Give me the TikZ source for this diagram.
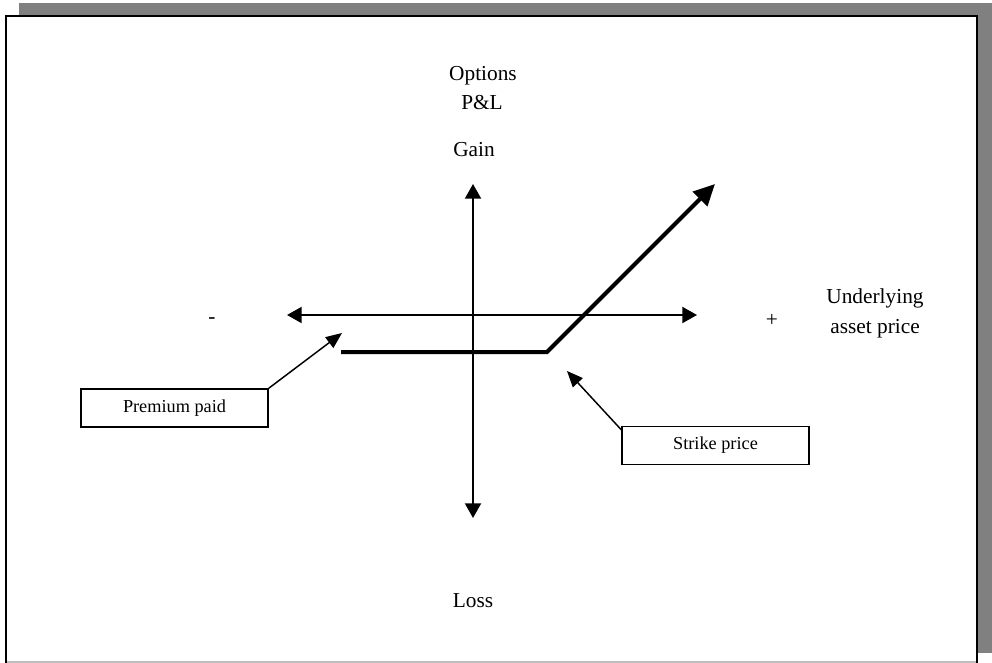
\documentclass[tikz,border=0pt]{standalone}
\usepackage{fontspec}
\setmainfont{Liberation Serif}
\usetikzlibrary{arrows.meta}
\definecolor{shadowgray}{RGB}{128,128,128}
\definecolor{edgegray}{RGB}{190,190,190}
\tikzset{
  axisline/.style={line width=1.5pt, {Triangle[length=11pt,width=12pt]}-{Triangle[length=11pt,width=12pt]}},
  payoff/.style={line width=3pt, -{Triangle[length=16pt,width=15pt]}, line join=miter},
  callout/.style={line width=1.1pt, -{Triangle[length=12pt,width=10pt]}},
  labelbox/.style={draw, line width=1.1pt, minimum width=140.25pt, minimum height=28.5pt, inner sep=0pt, font=\fontsize{13.7}{16}\selectfont},
  bigtext/.style={inner sep=0pt, font=\fontsize{16}{22}\selectfont},
}
\begin{document}
\begin{tikzpicture}[x=0.75pt,y=-0.75pt]
\useasboundingbox (0,0) rectangle (992,663);
% frame with shadow
\fill[shadowgray] (19,3) rectangle (992,653);
\fill[white] (6,16) rectangle (977,663);
\draw[edgegray, line width=0.9pt] (6,662) -- (977,662);
\draw[black, line width=1.6pt] (6,663) -- (6,16) -- (977,16) -- (977,663);
% texts
\node[bigtext, anchor=base] (opt) at (483,81) {Options};
\node[bigtext, anchor=base] (pl) at (482,110) {P\&L};
\node[bigtext, anchor=base] (gain) at (474,157) {Gain};
\node[bigtext, anchor=base] (loss) at (473,607) {Loss};
\node[bigtext] (minus) at (212,321) {-};
\node[bigtext] (plus) at (772,320) {+};
\node[bigtext, anchor=base] (und) at (875,303) {Underlying};
\node[bigtext, anchor=base] (asset) at (875,333) {asset price};
% axes
\coordinate (hl) at (287,315);
\coordinate (hr) at (697,315);
\coordinate (vt) at (473,184);
\coordinate (vb) at (473,518);
\draw[axisline] (hl) -- (hr);
\draw[axisline] (vt) -- (vb);
% payoff
\coordinate (p1) at (341,352);
\coordinate (p2) at (547,352);
\coordinate (p3) at (715,184);
\draw[payoff] (p1) -- (p2) -- (p3);
% callout boxes
\node[labelbox] (prem) at (174.5,408) {Premium paid};
\node[labelbox] (strike) at (715.5,445.5) {Strike price};
\coordinate (premtip) at (342,333);
\coordinate (striketip) at (567,371);
\draw[callout] (prem.north east) -- (premtip);
\draw[callout] ([yshift=-3pt]strike.north west) -- (striketip);
\end{tikzpicture}
\end{document}
